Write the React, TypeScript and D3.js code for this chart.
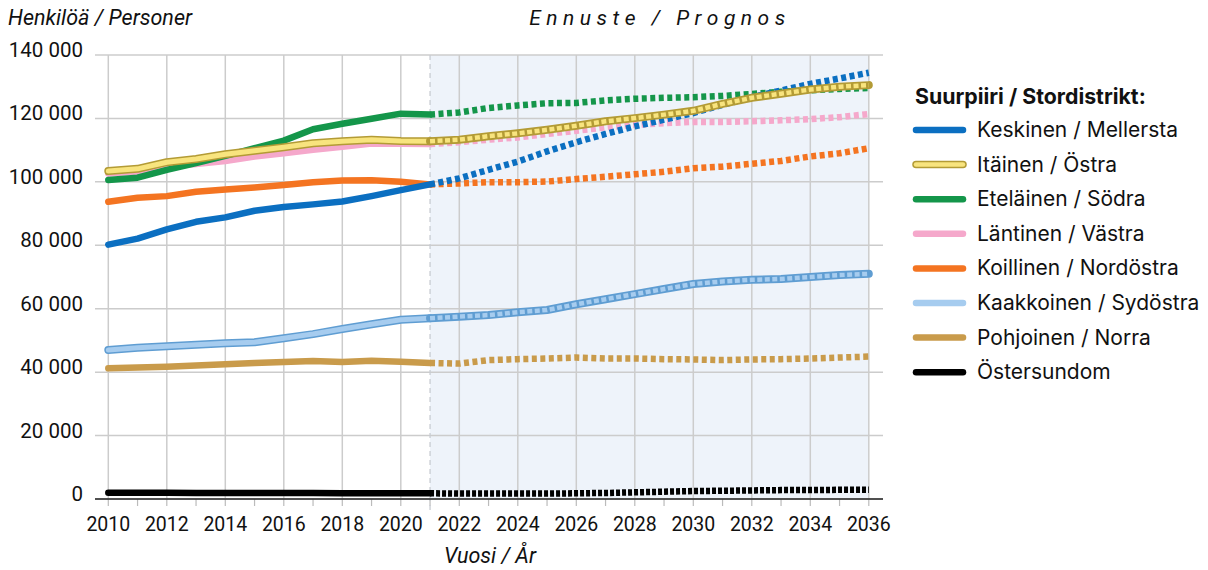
import React from "react";
import * as d3 from "d3";

const years = [2010, 2011, 2012, 2013, 2014, 2015, 2016, 2017, 2018, 2019, 2020, 2021, 2022, 2023, 2024, 2025, 2026, 2027, 2028, 2029, 2030, 2031, 2032, 2033, 2034, 2035, 2036];
const lastActualYear = 2021;
const yTicks = [0, 20000, 40000, 60000, 80000, 100000, 120000, 140000];
const xTickLabels = [2010, 2012, 2014, 2016, 2018, 2020, 2022, 2024, 2026, 2028, 2030, 2032, 2034, 2036];

const keskinen = [80200, 82100, 85000, 87400, 88800, 90900, 92100, 92900, 93800, 95500, 97400, 99200, 101100, 103800, 106400, 109600, 112500, 115100, 117500, 119600, 121700, 124300, 126700, 128800, 130900, 132600, 134400];
const itainen = [103400, 104100, 106200, 107200, 108700, 109800, 110900, 112200, 112800, 113300, 112900, 112800, 113300, 114400, 115300, 116400, 117700, 119100, 120100, 121200, 122400, 124600, 126500, 127800, 129100, 130000, 130500];
const etelainen = [100600, 101300, 103800, 105900, 108200, 110600, 113000, 116600, 118300, 119900, 121500, 121200, 121900, 123300, 124100, 124800, 124900, 125700, 126200, 126500, 126700, 127100, 127700, 128400, 128900, 129300, 129600];
const lantinen = [102600, 103200, 104800, 105600, 106600, 108000, 109000, 110100, 111100, 112100, 112000, 111900, 112500, 113300, 114000, 115100, 116100, 117200, 118000, 118500, 118900, 118900, 119100, 119400, 119800, 120400, 121400];
const koillinen = [93700, 95000, 95500, 96900, 97600, 98200, 99000, 99900, 100400, 100500, 100000, 99200, 99500, 99900, 99900, 100100, 100900, 101600, 102400, 103200, 104300, 104800, 105700, 106600, 108000, 109000, 110600];
const kaakkoinen = [47000, 47700, 48200, 48600, 49100, 49400, 50700, 52000, 53600, 55100, 56500, 57000, 57500, 58000, 58900, 59600, 61400, 63000, 64600, 66200, 67800, 68600, 69100, 69400, 70000, 70600, 71000];
const pohjoinen = [41200, 41500, 41700, 42100, 42500, 42900, 43200, 43500, 43200, 43600, 43300, 42900, 42700, 43800, 44100, 44300, 44600, 44300, 44300, 44100, 44000, 43800, 44000, 44100, 44300, 44600, 44900];
const ostersundom = [2000, 2000, 2000, 1900, 1900, 1900, 1900, 1900, 1800, 1800, 1800, 1800, 1700, 1700, 1700, 1700, 1800, 1900, 2100, 2300, 2500, 2600, 2700, 2800, 2800, 2900, 2900];

const seriesNames = [
  "Keskinen / Mellersta",
  "Itäinen / Östra",
  "Eteläinen / Södra",
  "Läntinen / Västra",
  "Koillinen / Nordöstra",
  "Kaakkoinen / Sydöstra",
  "Pohjoinen / Norra",
  "Östersundom",
];
const seriesValues = [keskinen, itainen, etelainen, lantinen, koillinen, kaakkoinen, pohjoinen, ostersundom];
const seriesColors = ["#0b6fc1", "#f8e47e", "#14964a", "#f5a8cb", "#f47421", "#a6ccef", "#c99b4b", "#000000"];
const seriesOutline = [null, "#b39b35", null, null, null, "#5f9dd2", null, null];
// drawing order bottom -> top (indices into series)
const drawOrder = [7, 6, 5, 3, 4, 2, 0, 1];

const FONT = "Roboto, 'Liberation Sans', Arial, sans-serif";
const FONT_WIDE = "Inter, Roboto, 'Liberation Sans', Arial, sans-serif";

export default function App() {
  const x = d3.scaleLinear().domain([2010, 2036]).range([108.3, 868.8]);
  const y = d3.scaleLinear().domain([0, 140000]).range([499, 55]);
  const line = d3
    .line<[number, number]>()
    .x((d) => x(d[0]))
    .y((d) => y(d[1]))
    .curve(d3.curveLinear);

  const splitIdx = years.indexOf(lastActualYear);

  const renderSeries = (i: number) => {
    const vals = seriesValues[i];
    const pts: [number, number][] = years.map((yr, k) => [yr, vals[k]]);
    const hist = line(pts.slice(0, splitIdx + 1)) || "";
    const fc = line(pts.slice(splitIdx)) || "";
    const color = seriesColors[i];
    const outline = seriesOutline[i];
    if (outline) {
      return (
        <g key={i}>
          <path d={hist} fill="none" stroke={outline} strokeWidth={8} strokeLinecap="round" strokeLinejoin="round" />
          <path d={hist} fill="none" stroke={color} strokeWidth={5} strokeLinecap="round" strokeLinejoin="round" />
          <path d={fc} fill="none" stroke={outline} strokeWidth={8} strokeLinecap="round" strokeLinejoin="round" />
          <path d={fc} fill="none" stroke={color} strokeWidth={4.5} strokeDasharray="5,2.5" strokeLinejoin="round" />
        </g>
      );
    }
    return (
      <g key={i}>
        <path d={hist} fill="none" stroke={color} strokeWidth={6.5} strokeLinecap="round" strokeLinejoin="round" />
        <path d={fc} fill="none" stroke={color} strokeWidth={6.5} strokeDasharray={i === 7 ? "4,2" : "5,3.5"} strokeLinejoin="round" />
      </g>
    );
  };

  const fmt = (v: number) => d3.format(",")(v).replace(/,/g, " ");
  const xLeft = 95;
  const xRight = 883;
  const legendX = 916;
  const legendY0 = 130;
  const legendStep = 34.6;

  return (
    <svg
      width={1208}
      height={570}
      style={{ position: "absolute", left: 0, top: 0, background: "#fff" }}
      fontFamily={FONT}
    >
      <rect x={0} y={0} width={1208} height={570} fill="#fff" />
      {/* forecast shading */}
      <rect x={x(lastActualYear)} y={y(140000)} width={x(2036) - x(lastActualYear)} height={y(0) - y(140000)} fill="#eef3fa" />
      {/* horizontal grid */}
      {yTicks.map((t) => (
        <line key={"h" + t} x1={xLeft} x2={xRight} y1={y(t)} y2={y(t)} stroke="#cccccc" strokeWidth={1.5} />
      ))}
      {/* vertical grid at even years */}
      {xTickLabels.map((t) => (
        <line key={"v" + t} x1={x(t)} x2={x(t)} y1={y(140000)} y2={y(0)} stroke="#cccccc" strokeWidth={1.5} />
      ))}
      {/* year ticks below axis */}
      {years.map((t) => (
        <line key={"t" + t} x1={x(t)} x2={x(t)} y1={y(0)} y2={y(0) + 7} stroke="#bbbbbb" strokeWidth={1.2} />
      ))}
      {/* forecast start dashed line */}
      <line x1={x(lastActualYear)} x2={x(lastActualYear)} y1={y(140000)} y2={y(0) + 12} stroke="#c8ccd2" strokeWidth={1.3} strokeDasharray="5,4" />
      {/* x axis line */}
      <line x1={xLeft} x2={xRight} y1={y(0)} y2={y(0)} stroke="#222" strokeWidth={1.6} />

      {/* y tick labels */}
      {yTicks.map((t) => (
        <text key={"yl" + t} x={83} y={y(t) + 2} textAnchor="end" fontSize={20.5} fill="#111">
          {fmt(t)}
        </text>
      ))}
      {/* x tick labels */}
      {xTickLabels.map((t) => (
        <text key={"xl" + t} x={x(t)} y={531} textAnchor="middle" fontSize={19.5} fill="#111">
          {t}
        </text>
      ))}

      {/* series */}
      {drawOrder.map((i) => renderSeries(i))}

      {/* titles */}
      <text x={8} y={25} fontSize={21.5} fontStyle="italic" fill="#111">
        Henkilöä / Personer
      </text>
      <text x={660} y={25} fontSize={21} fontStyle="italic" fill="#111" textAnchor="middle" letterSpacing={5.5}>
        Ennuste / Prognos
      </text>
      <text x={490} y={563} fontSize={21.5} fontStyle="italic" fill="#111" textAnchor="middle">
        Vuosi / År
      </text>

      {/* legend */}
      <text x={legendX - 1} y={104} fontSize={21.3} fontWeight="bold" fill="#111" fontFamily={FONT_WIDE}>
        Suurpiiri / Stordistrikt:
      </text>
      {seriesNames.map((name, i) => {
        const cy = legendY0 + i * legendStep;
        const outline = seriesOutline[i];
        return (
          <g key={"lg" + i}>
            {outline && i === 1 ? (
              <>
                <line x1={legendX} x2={legendX + 47} y1={cy} y2={cy} stroke={outline} strokeWidth={7.5} strokeLinecap="round" />
                <line x1={legendX} x2={legendX + 47} y1={cy} y2={cy} stroke={seriesColors[i]} strokeWidth={4.5} strokeLinecap="round" />
              </>
            ) : (
              <line x1={legendX} x2={legendX + 47} y1={cy} y2={cy} stroke={seriesColors[i]} strokeWidth={6.5} strokeLinecap="round" />
            )}
            <text x={977} y={cy + 7} fontSize={21} fill="#111" fontFamily={FONT_WIDE}>
              {name}
            </text>
          </g>
        );
      })}
    </svg>
  );
}
